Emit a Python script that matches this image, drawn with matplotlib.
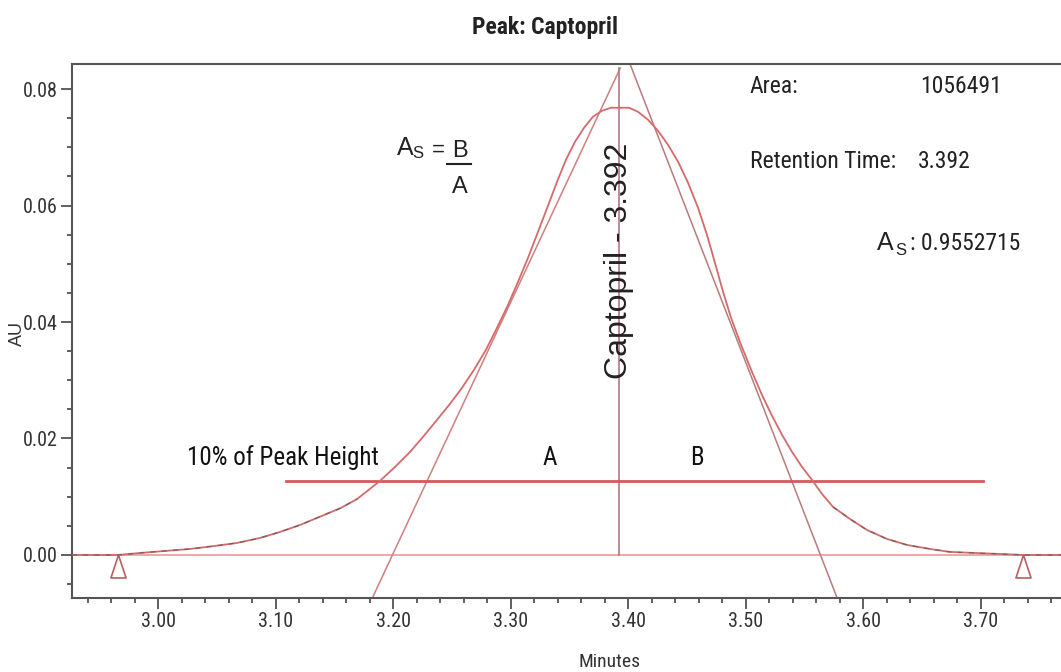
import matplotlib
matplotlib.use('Agg')
import matplotlib.pyplot as plt
from matplotlib import font_manager
from matplotlib.ticker import MultipleLocator
from matplotlib.lines import Line2D
import numpy as np

W, H = 1061, 672


def pick_narrow():
    for name in ['Liberation Sans Narrow', 'Roboto Condensed', 'Open Sans Condensed',
                 'Noto Sans Condensed', 'Arial Narrow']:
        try:
            font_manager.findfont(name, fallback_to_default=False)
            return {'family': [name, 'DejaVu Sans']}, 1.0
        except Exception:
            pass
    f = font_manager.findfont(font_manager.FontProperties(family='DejaVu Sans', stretch='condensed'))
    if 'Condensed' in f:
        return {'family': ['DejaVu Sans'], 'stretch': 'condensed'}, 0.95
    return {'family': ['Liberation Sans', 'DejaVu Sans']}, 0.82


NARROW, SCALE = pick_narrow()
REGULAR = ['Liberation Sans', 'DejaVu Sans']
plt.rcParams['font.family'] = NARROW['family']
if 'stretch' in NARROW:
    plt.rcParams['font.stretch'] = NARROW['stretch']

# chromatogram trace (minutes, AU)
trace_min = [2.9268, 2.9660, 2.9847, 3.0060, 3.0272, 3.0485, 3.0672, 3.0868, 3.1038,
             3.1209, 3.1353, 3.1549, 3.1694, 3.1889, 3.2017, 3.2145, 3.2255, 3.2374,
             3.2485, 3.2587, 3.2689, 3.2791, 3.2885, 3.2979, 3.3064, 3.3149, 3.3234,
             3.3319, 3.3396, 3.3472, 3.3549, 3.3626, 3.3702, 3.3779, 3.3855, 3.4009,
             3.4085, 3.4170, 3.4255, 3.4340, 3.4426, 3.4511, 3.4596, 3.4672, 3.4740,
             3.4809, 3.4877, 3.4962, 3.5055, 3.5140, 3.5226, 3.5311, 3.5396, 3.5481,
             3.5566, 3.5651, 3.5745, 3.5889, 3.6034, 3.6204, 3.6374, 3.6570, 3.6740,
             3.6953, 3.7166, 3.7362, 3.7685]
trace_au = [0.0, 0.0, 0.00034, 0.00069, 0.00103, 0.00155, 0.00206, 0.00292, 0.00395,
            0.00515, 0.00636, 0.00800, 0.00960, 0.01271, 0.01512, 0.01769, 0.02027, 0.02319,
            0.02594, 0.02869, 0.03178, 0.03522, 0.03900, 0.04295, 0.04690, 0.05102, 0.05549,
            0.05996, 0.06408, 0.06786, 0.07095, 0.07336, 0.07525, 0.07628, 0.07679, 0.07679,
            0.07610, 0.07473, 0.07284, 0.07044, 0.06752, 0.06391, 0.05961, 0.05497, 0.05016,
            0.04518, 0.04071, 0.03608, 0.03144, 0.02749, 0.02388, 0.02062, 0.01769, 0.01512,
            0.01288, 0.01048, 0.00825, 0.00618, 0.00429, 0.00275, 0.00172, 0.00103, 0.00052,
            0.00034, 0.00017, 0.0, 0.0]

# tangent lines used for the asymmetry construction
left_tan_min = [3.1819, 3.3934]
left_tan_au = [-0.0076, 0.0836]
right_tan_min = [3.4017, 3.5780]
right_tan_au = [0.0843, -0.0074]

retention = 3.392
apex_au = 0.0836
ten_pct_au = 0.0127
ten_pct_min = [3.1089, 3.7021]
marker_min = [2.9660, 3.7362]

x_ticks = [3.00, 3.10, 3.20, 3.30, 3.40, 3.50, 3.60, 3.70]
x_tick_labels = ['3.00', '3.10', '3.20', '3.30', '3.40', '3.50', '3.60', '3.70']
y_ticks = [0.00, 0.02, 0.04, 0.06, 0.08]
y_tick_labels = ['0.00', '0.02', '0.04', '0.06', '0.08']

area = '1056491'
asym = '0.9552715'


def fp(x, y):
    # pixel position -> figure fraction
    return x / W, 1 - y / H


fig = plt.figure(figsize=(W / 100, H / 100), dpi=100)
ax = fig.add_axes([72 / W, 1 - 598 / H, 1 - 72 / W, (598 - 64) / H])

ax.axhline(0, color='#e8a3a3', lw=1.3, zorder=1)
ax.plot(left_tan_min, left_tan_au, color='#cf7f7f', lw=1.1, zorder=2)
ax.plot(right_tan_min, right_tan_au, color='#b97a7a', lw=1.1, zorder=2)
ax.plot([retention, retention], [0, apex_au], color='#b07880', lw=1.2, zorder=2)
ax.plot(ten_pct_min, [ten_pct_au, ten_pct_au], color='#d45a5a', lw=2.0, zorder=3)
ax.plot(trace_min, trace_au, color='#d46a6a', lw=1.3, zorder=4)

# dark trace dashes along the low part of the peak
tx = np.array(trace_min)
ty = np.array(trace_au)
low = np.where(ty < 0.010, ty, np.nan)
ax.plot(tx, low, color='#555555', lw=0.9, ls=(0, (4, 5)), alpha=0.7, zorder=5)

tri = [(0, 0.5), (-0.33, -0.5), (0.33, -0.5), (0, 0.5)]
ax.plot(marker_min, [-0.00198, -0.00198], ls='none', marker=tri, ms=16.5,
        mfc='white', mec='#b86060', mew=1.2, zorder=6)

ax.set_xlim(2.9268, 3.7685)
ax.set_ylim(-0.00739, 0.0843)
ax.set_xticks(x_ticks)
ax.set_xticklabels(x_tick_labels)
ax.set_yticks(y_ticks)
ax.set_yticklabels(y_tick_labels)
ax.xaxis.set_minor_locator(MultipleLocator(0.02))
ax.yaxis.set_minor_locator(MultipleLocator(0.005))
ax.tick_params(which='major', direction='out', length=8, width=1.2, color='#444444',
               labelsize=14.5 * SCALE, labelcolor='#333333', pad=2)
ax.tick_params(which='minor', direction='out', length=3.5, width=1.2, color='#444444')
for side in ['left', 'bottom', 'top']:
    ax.spines[side].set_color('#555555')
    ax.spines[side].set_linewidth(1.5)
ax.spines['right'].set_visible(False)

ax.text(retention, 0.0505, 'Captopril - 3.392', rotation=90, ha='center', va='center',
        fontsize=23, family=REGULAR, color='#222222', zorder=7)

fig.text(*fp(545, 34), 'Peak: Captopril', ha='center', va='baseline', fontsize=17 * SCALE,
         fontweight='bold', color='#222222')
fig.text(*fp(610, 662), 'Minutes', ha='center', va='center', fontsize=14 * SCALE, color='#333333')
fig.text(*fp(17, 333), 'AU', ha='center', va='center', rotation=90, fontsize=13,
         family=REGULAR, color='#333333')

# peak info
big = 17 * SCALE
fig.text(*fp(750, 93), 'Area:', ha='left', va='baseline', fontsize=big, color='#222222')
fig.text(*fp(920, 93), area, ha='left', va='baseline', fontsize=big, color='#222222')
fig.text(*fp(750, 168), 'Retention Time:', ha='left', va='baseline', fontsize=big, color='#222222')
fig.text(*fp(918, 168), '3.392', ha='left', va='baseline', fontsize=big, color='#222222')
fig.text(*fp(877, 250), 'A', ha='left', va='baseline', fontsize=18, family=REGULAR, color='#222222')
fig.text(*fp(895, 255), 'S', ha='left', va='baseline', fontsize=12, family=REGULAR, color='#222222')
fig.text(*fp(910, 250), ': ' + asym, ha='left', va='baseline', fontsize=big, color='#222222')

# asymmetry formula
fig.text(*fp(397, 155), 'A', ha='left', va='baseline', fontsize=18, family=REGULAR, color='#222222')
fig.text(*fp(412, 158), 'S', ha='left', va='baseline', fontsize=12, family=REGULAR, color='#222222')
fig.text(*fp(432, 156), '=', ha='left', va='baseline', fontsize=16, family=REGULAR, color='#222222')
fig.text(*fp(460, 157), 'B', ha='center', va='baseline', fontsize=17, family=REGULAR, color='#222222')
fig.text(*fp(460, 193), 'A', ha='center', va='baseline', fontsize=17, family=REGULAR, color='#222222')
bx0, by = fp(447, 164)
bx1, _ = fp(471, 164)
fig.add_artist(Line2D([bx0, bx1], [by, by], color='#222222', lw=1.5))

fig.text(*fp(283, 465), '10% of Peak Height', ha='center', va='baseline', fontsize=18 * SCALE,
         color='#111111')
fig.text(*fp(550, 465), 'A', ha='center', va='baseline', fontsize=18 * SCALE, color='#111111')
fig.text(*fp(697, 465), 'B', ha='center', va='baseline', fontsize=18 * SCALE, color='#111111')

fig.savefig('out.png', dpi=100)
